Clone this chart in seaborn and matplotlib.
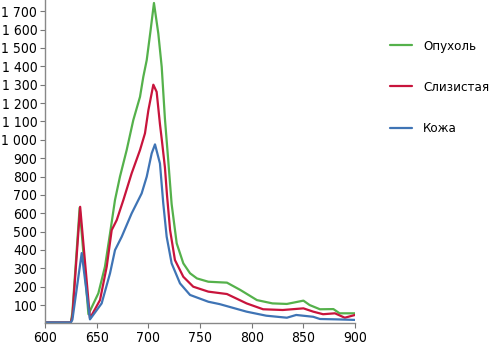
import numpy as np
import pandas as pd
import matplotlib
matplotlib.use("Agg")
import matplotlib.pyplot as plt
import seaborn as sns
from matplotlib.ticker import FuncFormatter

# %% Data
series_names = ["Опухоль", "Слизистая", "Кожа"]

tumor_x = [600, 625, 626.5, 633.5, 642, 651.6, 658, 662.9, 667.7, 672.5, 679,
           685.4, 691.9, 695.1, 698.4, 702, 705.4, 709.6, 712.9, 716, 719.2,
           722.5, 727.4, 733.8, 740.3, 747, 758, 776, 789, 805, 820, 834, 850,
           856, 866, 879, 885, 900]
tumor_y = [5, 5, 60, 630, 50, 164, 309, 490, 672, 799, 944,
           1107, 1234, 1343, 1434, 1590, 1745, 1579, 1397, 1115, 889,
           650, 436, 327, 273, 245, 227, 222, 182, 127, 109, 106, 124,
           100, 77, 78, 55, 55]

mucosa_x = [600, 625, 626.5, 634, 643.5, 653.2, 659.7, 664.5, 669.4, 675.8,
            683.8, 691.9, 696.7, 700, 704.8, 708, 711.2, 713, 716, 718,
            721, 725.7, 733.8, 743.4, 758, 776, 795, 811, 830, 850,
            859.5, 869, 880.5, 890, 900]
mucosa_y = [5, 5, 40, 635, 28, 127, 309, 508, 563, 672,
            817, 944, 1035, 1161, 1300, 1261, 1085, 1000, 850, 700,
            508, 345, 254, 200, 173, 160, 109, 77, 73, 82,
            64, 50, 55, 31, 46]

skin_x = [600, 625, 626.5, 635.5, 643.5, 654.8, 662.9, 667.7, 674.2, 683.8,
          693.5, 698.4, 703.2, 706.4, 711.2, 714.4, 717.7, 722.5,
          730.6, 740.3, 758, 769, 795, 814, 834, 843, 859.5, 866, 882, 900]
skin_y = [5, 5, 20, 383, 22, 109, 273, 399, 472, 599,
          708, 799, 926, 975, 871, 654, 472, 327,
          218, 155, 118, 105, 64, 42, 31, 46, 36, 24, 22, 19]

colors = ["#55b14b", "#c8143c", "#3f74b5"]
x_ticks = [600, 650, 700, 750, 800, 850, 900]
y_ticks = list(range(100, 1800, 100))

# %% Build long table
frames = []
for name, xs, ys in zip(series_names, [tumor_x, mucosa_x, skin_x], [tumor_y, mucosa_y, skin_y]):
    frames.append(pd.DataFrame({"wl": xs, "val": ys, "series": name}))
df = pd.concat(frames, ignore_index=True)

# %% Plot
sns.set_style("white")
plt.rcParams["font.family"] = ["DejaVu Sans"]
plt.rcParams["font.stretch"] = "condensed"

fig = plt.figure(figsize=(4.93, 3.46), dpi=100)
ax = fig.add_axes([0.0913, 0.0653, 0.629, 0.934])

sns.lineplot(data=df, x="wl", y="val", hue="series", hue_order=series_names,
             palette=colors, estimator=None, sort=False, linewidth=1.6, ax=ax)

ax.set_xlim(600, 900)
ax.set_ylim(0, 1760)
ax.set_xticks(x_ticks)
ax.set_yticks(y_ticks)
ax.yaxis.set_major_formatter(FuncFormatter(lambda v, p: f"{int(v):,}".replace(",", " ")))
ax.set_xlabel("")
ax.set_ylabel("")
ax.tick_params(axis="both", direction="out", length=3.5, width=0.8, color="#777777",
               labelsize=10, labelcolor="black", pad=2, left=True, bottom=True)
sns.despine(ax=ax)
for s in ["left", "bottom"]:
    ax.spines[s].set_color("#888888")
    ax.spines[s].set_linewidth(1.0)

handles, labels = ax.get_legend_handles_labels()
ax.get_legend().remove()
leg = fig.legend(handles, labels, loc="upper left", bbox_to_anchor=(0.767, 0.92),
                 frameon=False, fontsize=9.5, labelspacing=2.15, handlelength=1.7,
                 handletextpad=0.8)
for t in leg.get_texts():
    t.set_color("black")

fig.savefig("out.png", dpi=100)
